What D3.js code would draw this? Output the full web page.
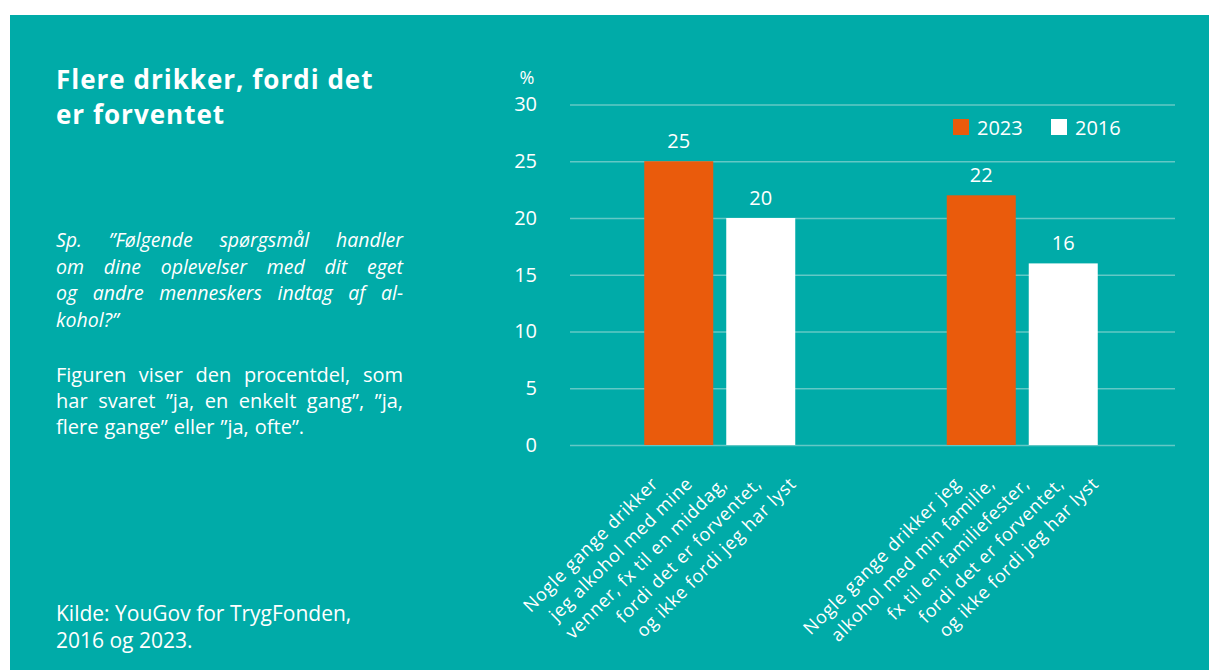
<!DOCTYPE html>
<html>
<head>
<meta charset="utf-8">
<script src="https://cdn.jsdelivr.net/npm/d3@7"></script>
<style>
  body { margin: 0; background: #fff; }
  svg { display: block; }
  text { font-family: "Open Sans", "Noto Sans", sans-serif; fill: #fff; }
</style>
</head>
<body>
<svg></svg>
<script>
// data
var categories = ['A', 'B'];
var categoryLines = [
    ['Nogle gange drikker', 'jeg alkohol med mine', 'venner, fx til en middag,', 'fordi det er forventet,', 'og ikke fordi jeg har lyst'],
    ['Nogle gange drikker jeg', 'alkohol med min familie,', 'fx til en familiefester,', 'fordi det er forventet,', 'og ikke fordi jeg har lyst']
];
var series = ['2023', '2016'];
var values2023 = [25, 22];
var values2016 = [20, 16];
var yTicks = [0, 5, 10, 15, 20, 25, 30];
var colors = { '2023': '#ea5b0c', '2016': '#ffffff' };

var titleLines = ['Flere drikker, fordi det', 'er forventet'];
var questionLines = ['Sp. \u201dFølgende spørgsmål handler', 'om dine oplevelser med dit eget', 'og andre menneskers indtag af al-', 'kohol?\u201d'];
var noteLines = ['Figuren viser den procentdel, som', 'har svaret \u201dja, en enkelt gang\u201d, \u201dja,', 'flere gange\u201d eller \u201dja, ofte\u201d.'];
var sourceLines = ['Kilde: YouGov for TrygFonden,', '2016 og 2023.'];

function drawChart() {
    var size = { w: 1209, h: 670 };
    var plot = { left: 570, right: 1175, top: 104.5, bottom: 445 };
    var svg = d3.select('svg')
        .attr('width', size.w)
        .attr('height', size.h);

    // teal panel
    svg.append('rect')
        .attr('x', 10).attr('y', 15)
        .attr('width', size.w - 10).attr('height', size.h - 15)
        .attr('fill', '#00aba8');

    // left side text
    svg.append('g').selectAll('text')
        .data(titleLines).enter().append('text')
        .attr('x', 56).attr('y', (d, i) => 89 + i * 34.5)
        .style('font-size', '26px').style('font-weight', 'bold')
        .style('letter-spacing', '1px')
        .text(d => d);

    justifyBlock(svg, questionLines, 56, 247, 26.5, 347, true, 19.5);
    justifyBlock(svg, noteLines, 56, 382, 26, 347, false, 20);

    svg.append('g').selectAll('text')
        .data(sourceLines).enter().append('text')
        .attr('x', 56).attr('y', (d, i) => 621 + i * 26.5)
        .style('font-size', '21px')
        .text(d => d);

    var x0 = d3.scaleBand().domain(categories).range([plot.left, plot.right]);
    var x1 = d3.scaleBand().domain(series).range([0, 151]).paddingInner(0.1585);
    var y = d3.scaleLinear().domain([0, 30]).range([plot.bottom, plot.top]);

    // grid + y axis
    var yAxis = d3.axisLeft(y).tickValues(yTicks).tickSize(-(plot.right - plot.left)).tickPadding(33);
    var ga = svg.append('g')
        .attr('transform', 'translate(' + plot.left + ',0)')
        .call(yAxis);
    ga.select('.domain').remove();
    ga.selectAll('line').attr('stroke', '#63c8c5').attr('stroke-width', 1.3);
    ga.selectAll('text')
        .attr('fill', '#fff').style('fill', '#fff')
        .style('font-size', '20px')
        .style('font-family', '"Open Sans", sans-serif');

    svg.append('text')
        .attr('x', 527).attr('y', 84)
        .attr('text-anchor', 'middle')
        .style('font-size', '18px')
        .text('%');

    var rows = categories.map((c, i) => ({ cat: c, vals: [
        { s: '2023', v: values2023[i] },
        { s: '2016', v: values2016[i] }
    ] }));

    var groupOffset = x0.bandwidth() / 2 - 75.5 - 1.5;
    var group = svg.selectAll('g.grp')
        .data(rows).enter().append('g')
        .attr('class', 'grp')
        .attr('transform', d => 'translate(' + (x0(d.cat) + groupOffset) + ',0)');

    group.selectAll('rect')
        .data(d => d.vals).enter().append('rect')
        .attr('x', d => x1(d.s))
        .attr('y', d => y(d.v))
        .attr('width', x1.bandwidth())
        .attr('height', d => y(0) - y(d.v))
        .attr('fill', d => colors[d.s]);

    group.selectAll('text.val')
        .data(d => d.vals).enter().append('text')
        .attr('class', 'val')
        .attr('x', d => x1(d.s) + x1.bandwidth() / 2)
        .attr('y', d => y(d.v) - 13)
        .attr('text-anchor', 'middle')
        .style('font-size', '20px')
        .text(d => d.v);

    // rotated category labels
    categories.forEach((c, ci) => {
        var cx = x0(c) + x0.bandwidth() / 2 - 2;
        categoryLines[ci].forEach((line, li) => {
            var ex = cx + (li - 2) * 34.5;
            var ey = 476;
            svg.append('text')
                .attr('transform', 'translate(' + ex + ',' + ey + ') rotate(-45)')
                .attr('text-anchor', 'end')
                .attr('dy', '0.7em')
                .style('font-size', '18px')
                .style('letter-spacing', '0.7px')
                .text(line);
        });
    });

    // legend
    var legend = svg.append('g').selectAll('g')
        .data(series).enter().append('g')
        .attr('transform', (d, i) => 'translate(' + (953 + i * 98) + ',119)');
    legend.append('rect')
        .attr('width', 16).attr('height', 16)
        .attr('fill', d => colors[d]);
    legend.append('text')
        .attr('x', 24).attr('y', 15.5)
        .style('font-size', '20px')
        .text(d => d);
}

function justifyBlock(svg, lines, x, y0, lh, width, italic, fs) {
    lines.forEach((line, i) => {
        var words = line.split(' ');
        var last = i === lines.length - 1;
        var t = svg.append('text')
            .attr('y', y0 + i * lh)
            .style('font-size', fs + 'px')
            .style('font-style', italic ? 'italic' : 'normal');
        var spans = words.map(w => t.append('tspan').text(w));
        var lens = spans.map(s => s.node().getComputedTextLength());
        var total = d3.sum(lens);
        var space = fs * 0.3;
        var gap = (last || words.length < 2) ? space : (width - total) / (words.length - 1);
        var cur = x;
        spans.forEach((s, k) => {
            s.attr('x', cur);
            cur += lens[k] + gap;
        });
    });
}

drawChart();
</script>
</body>
</html>
